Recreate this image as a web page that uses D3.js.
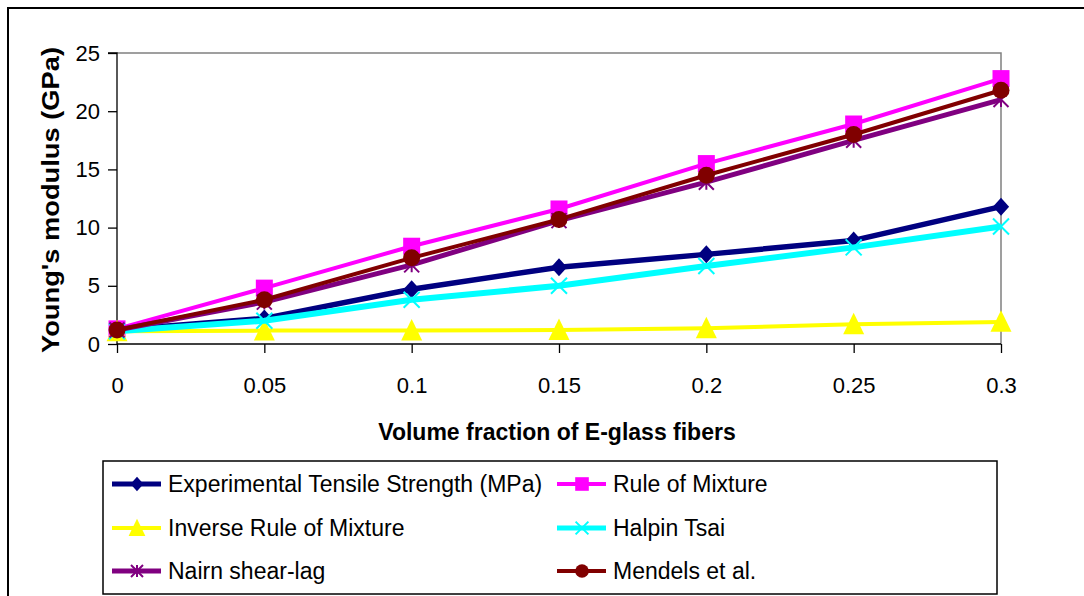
<!DOCTYPE html>
<html>
<head>
<meta charset="utf-8">
<script src="https://cdn.jsdelivr.net/npm/d3@7"></script>
<style>
  body { margin: 0; background: #fff; }
  svg { font-family: "Liberation Sans", Arial, sans-serif; }
</style>
</head>
<body>
<div id="chart"></div>
<script>
// data
const fractions = [0, 0.05, 0.1, 0.15, 0.2, 0.25, 0.3];
const yTicks = [0, 5, 10, 15, 20, 25];
const xTickLabels = ["0", "0.05", "0.1", "0.15", "0.2", "0.25", "0.3"];

const experimental = [1.2, 2.2, 4.7, 6.6, 7.7, 8.9, 11.8];
const ruleOfMixture = [1.3, 4.8, 8.4, 11.6, 15.5, 18.9, 22.8];
const inverseRule = [1.1, 1.15, 1.15, 1.2, 1.35, 1.7, 1.9];
const halpinTsai = [1.1, 2.0, 3.8, 5.0, 6.7, 8.3, 10.1];
const nairn = [1.2, 3.6, 6.8, 10.6, 13.9, 17.5, 21.0];
const mendels = [1.2, 3.8, 7.4, 10.7, 14.5, 18.0, 21.8];

const seriesNames = ["Experimental Tensile Strength (MPa)", "Rule of Mixture", "Inverse Rule of Mixture",
  "Halpin Tsai", "Nairn shear-lag", "Mendels et al."];

const series = [
  { name: seriesNames[0], values: experimental, color: "#000080", width: 5.5, marker: "diamond" },
  { name: seriesNames[1], values: ruleOfMixture, color: "#ff00ff", width: 4, marker: "square" },
  { name: seriesNames[2], values: inverseRule, color: "#ffff00", width: 4, marker: "triangle" },
  { name: seriesNames[3], values: halpinTsai, color: "#00ffff", width: 6, marker: "x" },
  { name: seriesNames[4], values: nairn, color: "#800080", width: 5, marker: "star" },
  { name: seriesNames[5], values: mendels, color: "#800000", width: 4, marker: "circle" }
];

const W = 1084, H = 596;
const svg = d3.select("#chart").append("svg").attr("width", W).attr("height", H);

// outer chart border (cropped on right / bottom)
svg.append("rect").attr("x", 8).attr("y", 8).attr("width", 1100).attr("height", 620)
  .attr("fill", "none").attr("stroke", "#000").attr("stroke-width", 2);

const plot = { left: 117, right: 1001, top: 53, bottom: 344 };

const x = d3.scaleLinear().domain([0, 0.3]).range([plot.left, plot.right]);
const y = d3.scaleLinear().domain([0, 25]).range([plot.bottom, plot.top]);

// plot area frame: gray top/right
svg.append("path")
  .attr("d", `M${plot.left},${plot.top}H${plot.right}V${plot.bottom}`)
  .attr("fill", "none").attr("stroke", "#808080").attr("stroke-width", 1.5);

// axes
const yAxis = d3.axisLeft(y).tickValues(yTicks).tickSize(9).tickPadding(8);
const yg = svg.append("g").attr("transform", `translate(${plot.left},0)`).call(yAxis);
yg.selectAll("text").attr("font-size", 22).attr("fill", "#000").attr("font-family", "Liberation Sans, Arial");
yg.selectAll("line, path").attr("stroke", "#000").attr("stroke-width", 1.3);
yg.select(".domain").attr("d", `M-9,${plot.top}H0V${plot.bottom}`);

const xAxis = d3.axisBottom(x).tickValues(fractions).tickSize(9).tickPadding(24)
  .tickFormat((d, i) => xTickLabels[i]);
const xg = svg.append("g").attr("transform", `translate(0,${plot.bottom})`).call(xAxis);
xg.selectAll("text").attr("font-size", 22).attr("fill", "#000").attr("font-family", "Liberation Sans, Arial");
xg.selectAll("line, path").attr("stroke", "#000").attr("stroke-width", 1.3);
xg.select(".domain").attr("d", `M${plot.left},0H${plot.right}`);

// axis titles
svg.append("text")
  .attr("x", 557).attr("y", 440)
  .attr("text-anchor", "middle").attr("font-weight", "bold").attr("font-size", 23)
  .text("Volume fraction of E-glass fibers");

svg.append("text")
  .attr("transform", `translate(59,200) rotate(-90)`)
  .attr("text-anchor", "middle").attr("font-weight", "bold").attr("font-size", 24)
  .attr("textLength", 306).attr("lengthAdjust", "spacingAndGlyphs")
  .text("Young's modulus (GPa)");

// marker drawing
function drawMarker(g, type, color, cx, cy, scale) {
  const s = scale || 1;
  if (type === "diamond") {
    const r = 9 * s;
    g.append("path").attr("d", `M${cx},${cy - r}L${cx + r * 0.9},${cy}L${cx},${cy + r}L${cx - r * 0.9},${cy}Z`).attr("fill", color);
  } else if (type === "square") {
    const r = 8.5 * s;
    g.append("rect").attr("x", cx - r).attr("y", cy - r).attr("width", 2 * r).attr("height", 2 * r).attr("fill", color);
  } else if (type === "triangle") {
    const r = 10.5 * s;
    g.append("path").attr("d", `M${cx},${cy - r * 1.1}L${cx + r},${cy + r * 0.95}L${cx - r},${cy + r * 0.95}Z`).attr("fill", color);
  } else if (type === "circle") {
    g.append("circle").attr("cx", cx).attr("cy", cy).attr("r", 8.5 * s).attr("fill", color);
  } else if (type === "x") {
    const r = 8 * s;
    g.append("path").attr("d", `M${cx - r},${cy - r}L${cx + r},${cy + r}M${cx - r},${cy + r}L${cx + r},${cy - r}`)
      .attr("stroke", color).attr("stroke-width", 2).attr("fill", "none");
  } else if (type === "star") {
    const r = 7.5 * s;
    g.append("path").attr("d", `M${cx - r},${cy - r}L${cx + r},${cy + r}M${cx - r},${cy + r}L${cx + r},${cy - r}M${cx},${cy - r}V${cy + r}`)
      .attr("stroke", color).attr("stroke-width", 2).attr("fill", "none");
  }
}

const line = d3.line().x((d, i) => x(fractions[i])).y(d => y(d));

series.forEach(s => {
  const g = svg.append("g");
  g.append("path").datum(s.values).attr("d", line)
    .attr("fill", "none").attr("stroke", s.color).attr("stroke-width", s.width)
    .attr("stroke-linejoin", "round");
  s.values.forEach((v, i) => drawMarker(g, s.marker, s.color, x(fractions[i]), y(v)));
});

// legend
const legend = svg.append("g");
legend.append("rect").attr("x", 103).attr("y", 461).attr("width", 894).attr("height", 133)
  .attr("fill", "#fff").attr("stroke", "#000").attr("stroke-width", 1.5);

const legendCols = [112, 557];
const legendRows = [484, 528, 571];
series.forEach((s, i) => {
  const lx = legendCols[i % 2];
  const ly = legendRows[Math.floor(i / 2)];
  const g = legend.append("g");
  g.append("line").attr("x1", lx).attr("x2", lx + 49).attr("y1", ly).attr("y2", ly)
    .attr("stroke", s.color).attr("stroke-width", Math.min(s.width, 5));
  drawMarker(g, s.marker, s.color, lx + 25, ly, 0.8);
  g.append("text").attr("x", lx + 56).attr("y", ly + 8).attr("font-size", 23).text(s.name);
});
</script>
</body>
</html>
